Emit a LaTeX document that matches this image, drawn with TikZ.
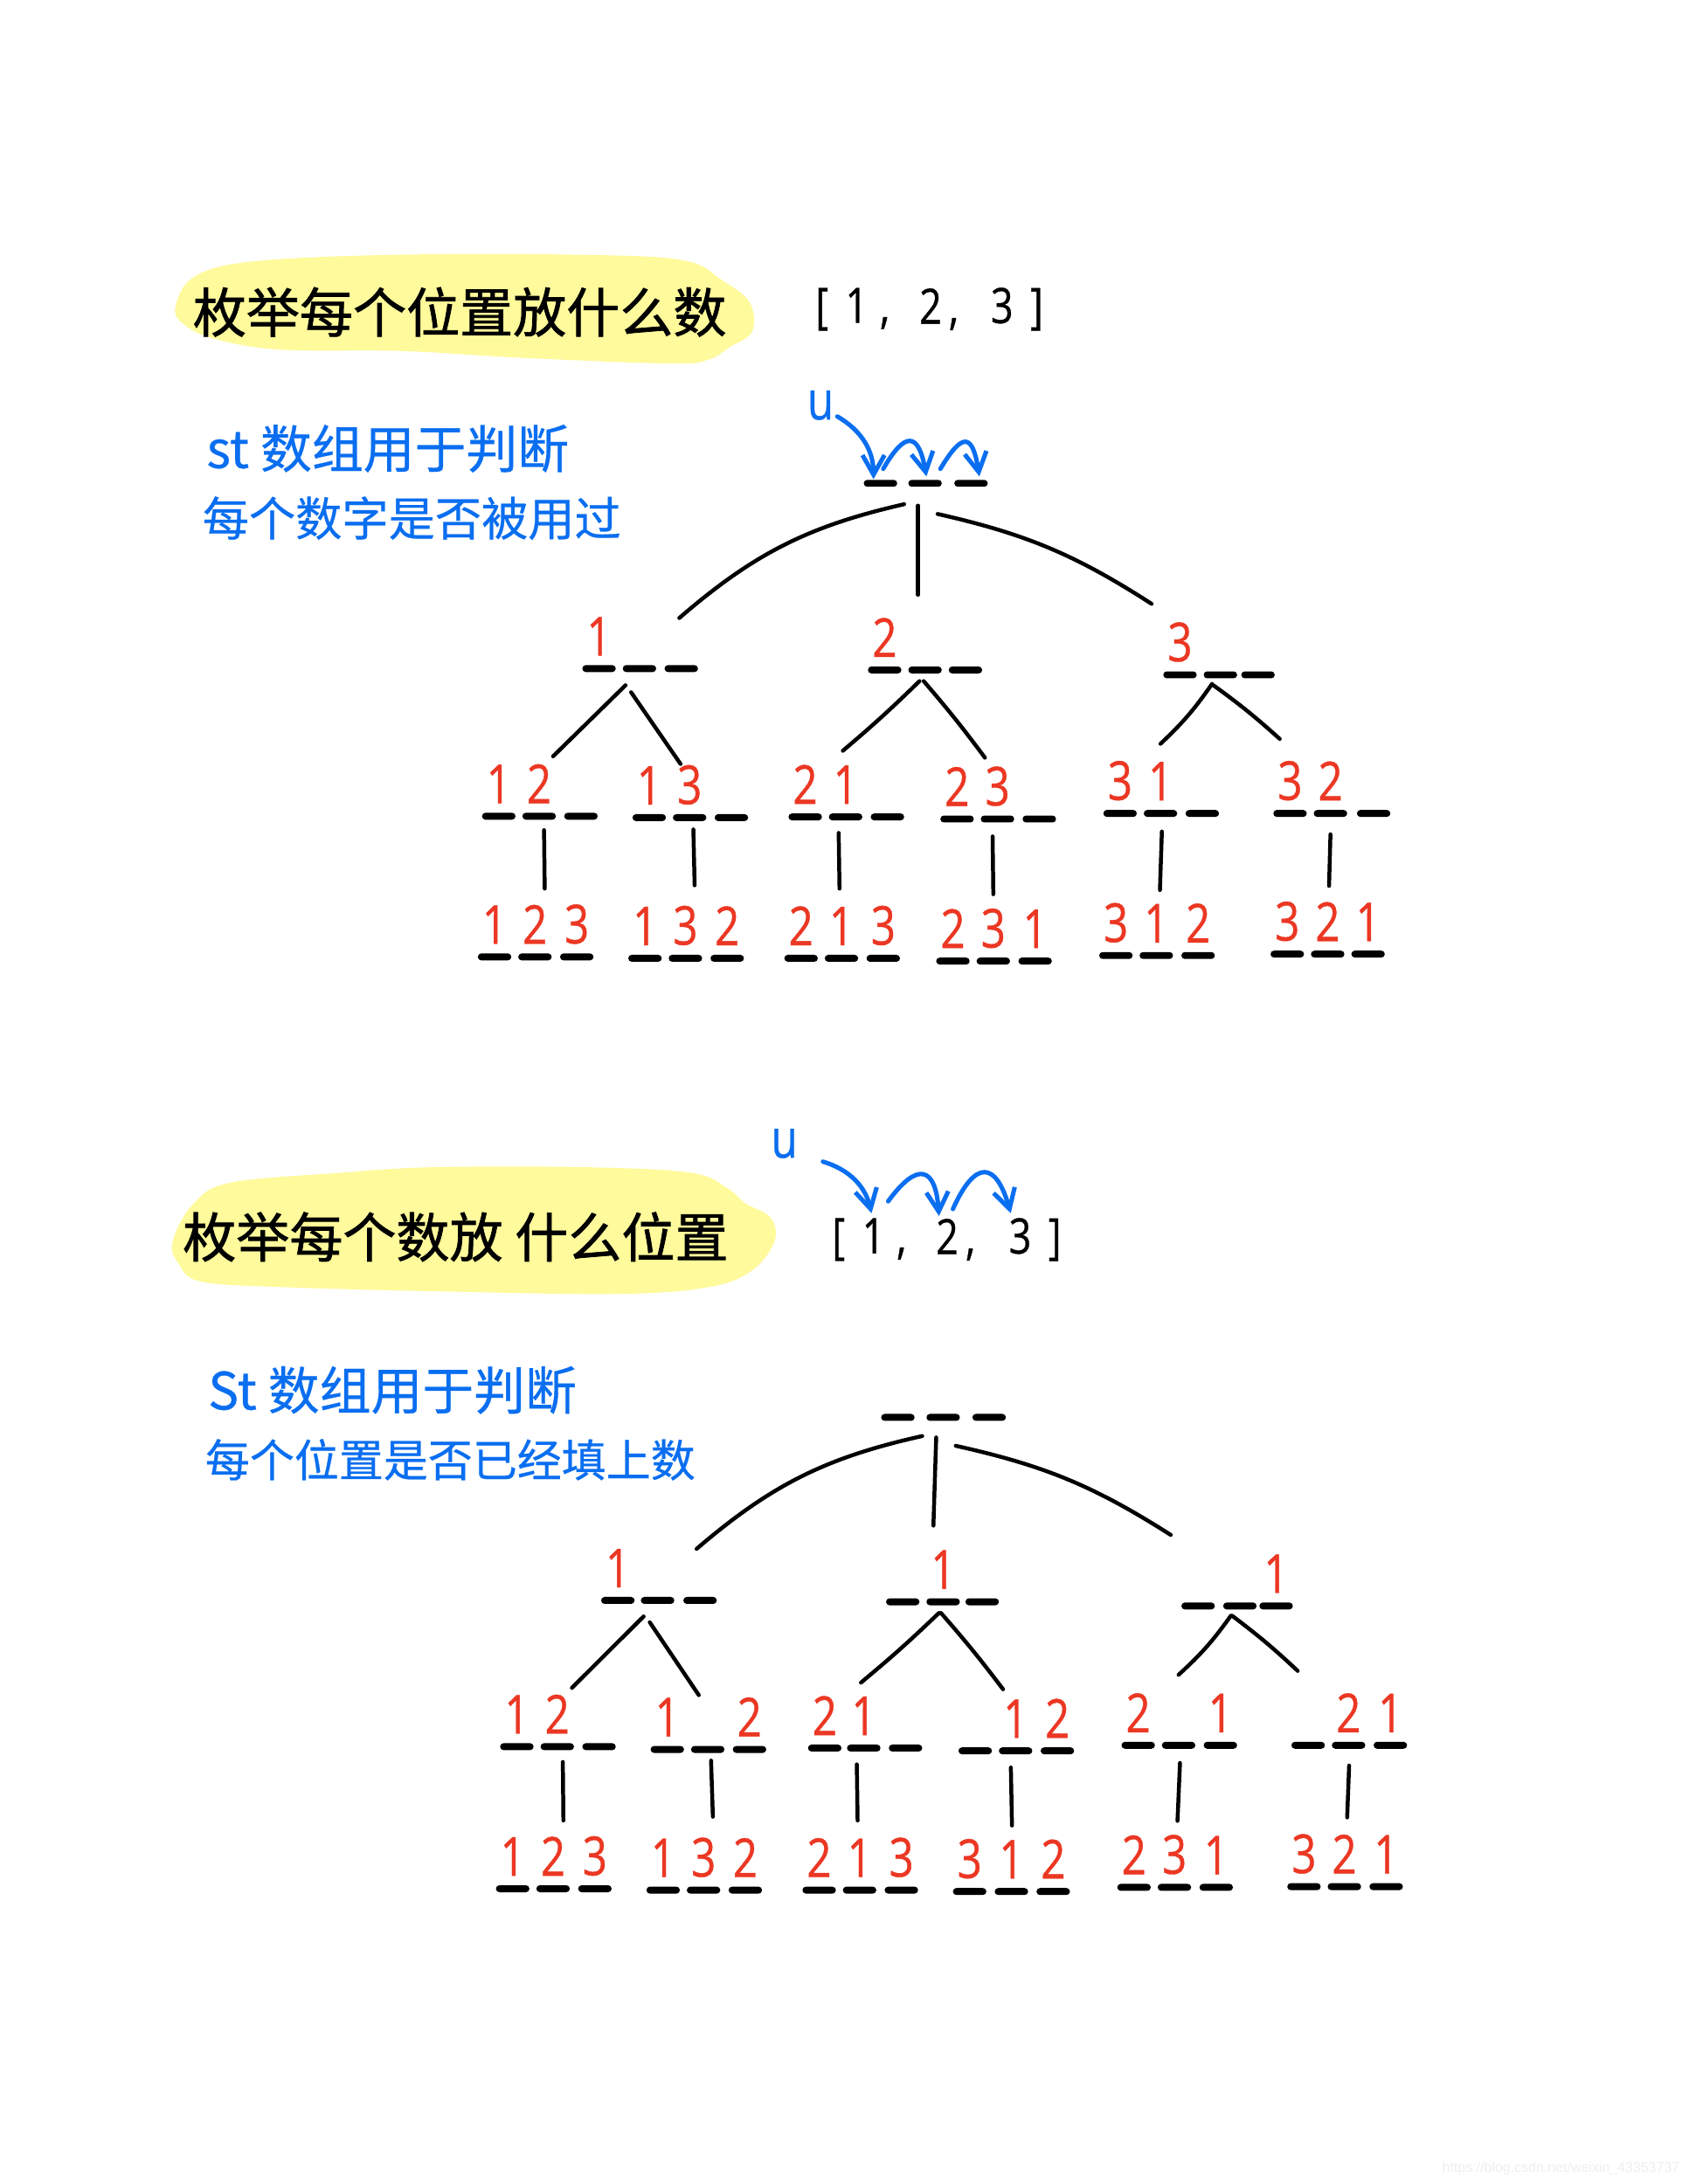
\documentclass[tikz,border=0pt]{standalone}
\usepackage{xcolor}
\usepackage{fontspec}
\setmainfont{Open Sans}
\newfontfamily\cjk[FakeBold=0.5]{Noto Sans CJK SC}
\newfontfamily\cjkheavy[FakeBold=1.2]{Noto Sans CJK SC}
\newfontfamily\narrowdigits[FakeStretch=0.8, FakeBold=0.6]{Open Sans}
\newfontfamily\webfont{Liberation Sans}
\usetikzlibrary{arrows.meta, positioning}
\definecolor{myblue}{RGB}{10,110,240}
\definecolor{myred}{RGB}{235,55,35}
\definecolor{myyellow}{RGB}{255,250,155}
\definecolor{mywater}{RGB}{238,238,238}
\tikzset{
  slot/.style={rectangle, fill=black, minimum width=0.48cm, minimum height=0.1cm,
    inner sep=0pt, rounded corners=1.4pt},
  digit/.style={color=myred, font=\narrowdigits\fontsize{22}{22}\selectfont, inner sep=0pt},
  heading/.style={color=black, font=\cjkheavy\fontsize{21.8}{24}\selectfont, inner sep=0pt},
  note/.style={color=myblue, font=\cjk\fontsize{19}{22}\selectfont, inner sep=0pt, anchor=west},
  wide note/.style={note, font=\cjk\fontsize{21}{24}\selectfont},
  tight note/.style={note, font=\cjk\fontsize{18.2}{22}\selectfont},
  listitem/.style={color=black, font=\narrowdigits\fontsize{20}{22}\selectfont, inner sep=0pt},
  pointer/.style={color=myblue, font=\narrowdigits\fontsize{22}{22}\selectfont, inner sep=0pt},
  branch/.style={color=black, line width=1.6pt, line cap=round},
  hop/.style={-{Straight Barb[length=8pt,width=9pt]}, color=myblue, line width=1.8pt, line cap=round},
  marker/.style={fill=myyellow}
}

\begin{document}
\begin{tikzpicture}[x=0.02cm, y=-0.02cm]
  \useasboundingbox (0,0) rectangle (1212,1568);

  % Yellow highlights behind the headings
  \fill[marker] plot[smooth cycle, tension=0.6] coordinates {(126,220) (139,199) (179,188) (280,183) (421,183) (491,187) (518,201) (538,217) (540,238) (524,249) (509,258) (483,261) (377,257) (289,252) (201,251) (153,243) (131,232)};
  \fill[marker] plot[smooth cycle, tension=0.6] coordinates {(124,891) (139,864) (166,849) (245,842) (311,838) (421,838) (496,842) (522,853) (535,864) (553,874) (556,891) (540,912) (509,924) (443,929) (311,927) (201,924) (144,920) (128,907)};

  % Headings and notes
  \node[heading] (ptitle) at (330,224) {枚举每个位置放什么数};
  \node[heading] (ntitle) at (327,888) {枚举每个数放 什么位置};
  \node[wide note] (pnote1) at (148,322) {st 数组用于判断};
  \node[note] (pnote2) at (145,372) {每个数字是否被用过};
  \node[wide note] (nnote1) at (149,998) {St 数组用于判断};
  \node[tight note] (nnote2) at (147,1048) {每个位置是否已经填上数};

  % Input lists
  \node[listitem] (pl1) at (612,222) {[\hspace{7pt}1\hspace{5pt},};
  \node[listitem] (pl2) at (674,222) {2\hspace{3pt},};
  \node[listitem] (pl3) at (730,222) {3\hspace{7pt}]};
  \node[listitem] (nl1) at (624,890) {[\hspace{7pt}1\hspace{5pt},};
  \node[listitem] (nl2) at (686,890) {2\hspace{3pt},};
  \node[listitem] (nl3) at (743,890) {3\hspace{7pt}]};
  \node[pointer] (pu) at (589,291) {u};
  \node[pointer] (nu) at (563,821) {u};

  % Blanks of every state
  \foreach \name/\xa/\xb/\xc/\y in {
    pr/632/664/697/347, pa/430/459/489/480, pb/635/664/693/481, pc/847/876/903/484.5,
    paa/358/387/417/586, pab/466/495/525/587, pba/578/607/637/586.5,
    pbb/687/716/746/588, pca/804/833/863/584, pcb/926/955/986/584,
    paaa/355/384/414/687, paba/463/492/522/688, pbaa/575/604/634/688,
    pbba/684/713/743/690, pcaa/801/830/860/686, pcba/924/953/982/685,
    nr/644.5/677/710/1017.6, na/443.5/472/502.5/1149, nb/648/677/705/1150, nc/860/890/916/1153,
    naa/371/400/430/1254, nab/479/508/538/1256, nba/592/620/650/1255,
    nbb/700/729/759/1257, nca/817/846/876/1253, ncb/939/968/998/1253,
    naaa/368/397/427/1356, naba/476/505/535/1357, nbaa/588/617/647/1357,
    nbba/696/726/756/1358, ncaa/814/843/873/1355, ncba/936/965/995/1354.5} {
    \node[slot] (\name-1) at (\xa,\y) {};
    \node[slot] (\name-2) at (\xb,\y) {};
    \node[slot] (\name-3) at (\xc,\y) {};
  }

  % Digits standing on the blanks
  \foreach \place/\digitval in {
    pa-1/1, pb-1/2, pc-1/3,
    paa-1/1, paa-2/2, pab-1/1, pab-2/3, pba-1/2, pba-2/1,
    pbb-1/2, pbb-2/3, pca-1/3, pca-2/1, pcb-1/3, pcb-2/2,
    paaa-1/1, paaa-2/2, paaa-3/3, paba-1/1, paba-2/3, paba-3/2,
    pbaa-1/2, pbaa-2/1, pbaa-3/3, pbba-1/2, pbba-2/3, pbba-3/1,
    pcaa-1/3, pcaa-2/1, pcaa-3/2, pcba-1/3, pcba-2/2, pcba-3/1,
    na-1/1, nb-2/1, nc-3/1,
    naa-1/1, naa-2/2, nab-1/1, nab-3/2, nba-1/2, nba-2/1,
    nbb-2/1, nbb-3/2, nca-1/2, nca-3/1, ncb-2/2, ncb-3/1,
    naaa-1/1, naaa-2/2, naaa-3/3, naba-1/1, naba-2/3, naba-3/2,
    nbaa-1/2, nbaa-2/1, nbaa-3/3, nbba-1/3, nbba-2/1, nbba-3/2,
    ncaa-1/2, ncaa-2/3, ncaa-3/1, ncba-1/3, ncba-2/2, ncba-3/1} {
    \node[digit, above=3.5pt of \place] (d-\place) {\digitval};
  }

  % Upper tree
  \draw[branch] ([shift={(-15,15)}]pr-2.center) to[bend right=14] ([shift={(28.6,-36.3)}]pa-2.center);
  \draw[branch] ([shift={(-5,16)}]pr-2.center) -- ([shift={(-5,-54)}]pb-2.center);
  \draw[branch] ([shift={(9,22)}]pr-2.center) to[bend left=10] ([shift={(-49.4,-51)}]pc-2.center);
  \draw[branch] ([shift={(-10,12)}]pa-2.center) -- ([shift={(10,-43)}]paa-2.center);
  \draw[branch] ([shift={(-6,17)}]pa-2.center) -- ([shift={(-6.5,-38.5)}]pab-2.center);
  \draw[branch] ([shift={(-4,8)}]pb-2.center) to[bend left=2] ([shift={(-2,-47.5)}]pba-2.center);
  \draw[branch] ([shift={(-1,8)}]pb-2.center) to[bend left=2] ([shift={(-9,-44)}]pbb-2.center);
  \draw[branch] ([shift={(-6,6.5)}]pc-2.center) to[bend left=6] ([shift={(0,-50)}]pca-2.center);
  \draw[branch] ([shift={(-5,7.5)}]pc-2.center) to[bend left=3] ([shift={(-36.4,-53.5)}]pcb-2.center);
  \draw[branch] ([shift={(3.5,10)}]paa-2.center) -- ([shift={(7,-49)}]paaa-2.center);
  \draw[branch] ([shift={(2.7,8.5)}]pab-2.center) -- ([shift={(6.6,-52.4)}]paba-2.center);
  \draw[branch] ([shift={(-5,11.5)}]pba-2.center) -- ([shift={(-1.4,-50)}]pbaa-2.center);
  \draw[branch] ([shift={(-3.5,12.5)}]pbb-2.center) -- ([shift={(0,-48)}]pbba-2.center);
  \draw[branch] ([shift={(1,13)}]pca-2.center) -- ([shift={(2.6,-47)}]pcaa-2.center);
  \draw[branch] ([shift={(0,15)}]pcb-2.center) -- ([shift={(1,-49)}]pcba-2.center);

  % Lower tree
  \draw[branch] ([shift={(-15,13.4)}]nr-2.center) to[bend right=14] ([shift={(28,-37)}]na-2.center);
  \draw[branch] ([shift={(-5,14.4)}]nr-2.center) -- ([shift={(-7,-54.7)}]nb-2.center);
  \draw[branch] ([shift={(9,20.4)}]nr-2.center) to[bend left=10] ([shift={(-49.6,-51)}]nc-2.center);
  \draw[branch] ([shift={(-10,11.5)}]na-2.center) -- ([shift={(10.5,-42.2)}]naa-2.center);
  \draw[branch] ([shift={(-5.6,15.7)}]na-2.center) -- ([shift={(-6.4,-39)}]nab-2.center);
  \draw[branch] ([shift={(-3,8)}]nb-2.center) to[bend left=2] ([shift={(-2,-47)}]nba-2.center);
  \draw[branch] ([shift={(-1.6,8)}]nb-2.center) to[bend left=2] ([shift={(-9,-44.2)}]nbb-2.center);
  \draw[branch] ([shift={(-6.5,7)}]nc-2.center) to[bend left=6] ([shift={(0,-50.6)}]nca-2.center);
  \draw[branch] ([shift={(-5.6,7)}]nc-2.center) to[bend left=3] ([shift={(-36.5,-53.4)}]ncb-2.center);
  \draw[branch] ([shift={(4,11)}]naa-2.center) -- ([shift={(7.4,-49)}]naaa-2.center);
  \draw[branch] ([shift={(2.4,8)}]nab-2.center) -- ([shift={(6.7,-52.7)}]naba-2.center);
  \draw[branch] ([shift={(-5,11.7)}]nba-2.center) -- ([shift={(-1.4,-50)}]nbaa-2.center);
  \draw[branch] ([shift={(-3.4,12)}]nbb-2.center) -- ([shift={(0.4,-47.4)}]nbba-2.center);
  \draw[branch] ([shift={(1,12.7)}]nca-2.center) -- ([shift={(2.2,-47.7)}]ncaa-2.center);
  \draw[branch] ([shift={(0.4,14.6)}]ncb-2.center) -- ([shift={(2,-49.7)}]ncba-2.center);

  % Blue hops of u
  \draw[hop] ([shift={(12,8)}]pu.center) to[bend left=30] ([shift={(-5,-3)}]pr-1.center);
  \draw[hop] ([shift={(2,-10.4)}]pr-1.center) to[bend left=70, looseness=2.6] ([shift={(1,-5)}]pr-2.center);
  \draw[hop] ([shift={(11,-10.4)}]pr-2.center) to[bend left=70, looseness=2.8] ([shift={(6,-5)}]pr-3.center);
  \draw[hop] ([shift={(27.7,13)}]nu.center) to[bend left=30] ([shift={(1.6,-19)}]nl1.center);
  \draw[hop] ([shift={(13.5,-27.5)}]nl1.center) to[bend left=70, looseness=2.4] ([shift={(-12,-17)}]nl2.center);
  \draw[hop] ([shift={(-2,-22)}]nl2.center) to[bend left=70, looseness=2.4] ([shift={(-17.5,-19)}]nl3.center);

  \node[color=mywater, font=\webfont\fontsize{5.7}{8}\selectfont, inner sep=0pt, anchor=east] (water) at (1206,1557) {https://blog.csdn.net/weixin\_43353737};
\end{tikzpicture}
\end{document}
